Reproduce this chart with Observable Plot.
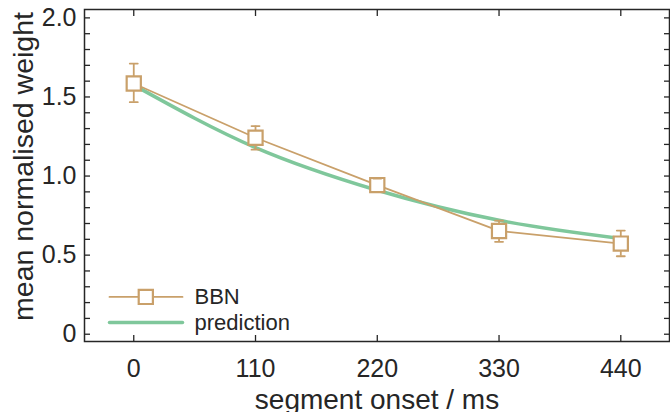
<!DOCTYPE html>
<html><head><meta charset="utf-8">
<script src="https://cdn.jsdelivr.net/npm/d3@7"></script>
<script src="https://cdn.jsdelivr.net/npm/@observablehq/plot@0.6"></script>
<style>html,body{margin:0;padding:0;background:#fff}</style>
</head><body><div id="chart"></div>
<script>
// ---- data ----
const onsets = [0, 110, 220, 330, 440];
const bbnMean = [1.585, 1.242, 0.943, 0.653, 0.573];
const bbnLow = [1.467, 1.167, 0.900, 0.584, 0.493];
const bbnHigh = [1.711, 1.316, 0.984, 0.718, 0.655];
const prediction = [1.575, 1.18, 0.91, 0.72, 0.605];
const xTicks = [0, 110, 220, 330, 440];
const yLabelTicks = [0, 0.5, 1.0, 1.5, 2.0];
const yMinorTicks = [0, 0.1, 0.2, 0.3, 0.4, 0.5, 0.6, 0.7, 0.8, 0.9, 1.0, 1.1, 1.2, 1.3, 1.4, 1.5, 1.6, 1.7, 1.8, 1.9, 2.0];
const legendLabels = ["BBN", "prediction"];
const xTitle = "segment onset / ms";
const yTitle = "mean normalised weight";

const bbn = onsets.map((x, i) => ({x, y: bbnMean[i], lo: bbnLow[i], hi: bbnHigh[i]}));
const pred = onsets.map((x, i) => ({x, y: prediction[i]}));

const tan = "#c9a06a", green = "#7fc79b", ink = "#262626";
const seg = {draw(ctx, l) { ctx.moveTo(0, 0); ctx.lineTo(0, -l); }};
const cap = {draw(ctx, l) { ctx.moveTo(-l / 2, 0); ctx.lineTo(l / 2, 0); }};
const fmt = d => d === 0 ? "0" : d.toFixed(1);

const rowDy = [-44.6, -19];

const chart = Plot.plot({
  width: 670, height: 412,
  marginLeft: 84, marginRight: 1, marginTop: 9, marginBottom: 71,
  style: {fontFamily: "'Liberation Sans', Arial, sans-serif", fontSize: "25px", color: ink, background: "#fff"},
  x: {domain: [-44.5, 484], label: null},
  y: {domain: [-0.046, 2.053], label: null},
  marks: [
    Plot.line(pred, {x: "x", y: "y", stroke: green, strokeWidth: 3.5, curve: "monotone-x"}),
    Plot.line(bbn, {x: "x", y: "y", stroke: tan, strokeWidth: 1.8}),
    Plot.ruleX(bbn, {x: "x", y1: "lo", y2: "hi", stroke: tan, strokeWidth: 1.8}),
    Plot.dot(bbn, {x: "x", y: "y", symbol: "square", r: 8, fill: "#fff", stroke: tan, strokeWidth: 2.2}),
    Plot.vector(bbn, {x: "x", y: "lo", length: 8, shape: cap, anchor: "start", stroke: tan, strokeWidth: 1.8}),
    Plot.vector(bbn, {x: "x", y: "hi", length: 8, shape: cap, anchor: "start", stroke: tan, strokeWidth: 1.8}),
    // legend
    Plot.vector([legendLabels[0]], {x: null, y: null, frameAnchor: "bottom-left", dx: 25, dy: rowDy[0], rotate: 90, length: 73, anchor: "start", shape: seg, stroke: tan, strokeWidth: 1.8}),
    Plot.dot([legendLabels[0]], {x: null, y: null, frameAnchor: "bottom-left", dx: 61.3, dy: rowDy[0], symbol: "square", r: 8, fill: "#fff", stroke: tan, strokeWidth: 2.2}),
    Plot.vector([legendLabels[1]], {x: null, y: null, frameAnchor: "bottom-left", dx: 25, dy: rowDy[1], rotate: 90, length: 73, anchor: "start", shape: seg, stroke: green, strokeWidth: 3.5}),
    Plot.text([legendLabels[0]], {x: null, y: null, text: d => d, frameAnchor: "bottom-left", dx: 110, dy: rowDy[0], textAnchor: "start", lineAnchor: "middle", fontSize: 22, fill: ink}),
    Plot.text([legendLabels[1]], {x: null, y: null, text: d => d, frameAnchor: "bottom-left", dx: 110, dy: rowDy[1], textAnchor: "start", lineAnchor: "middle", fontSize: 22, fill: ink}),
    // axes
    Plot.axisX(xTicks, {anchor: "bottom", tickSize: -6, tickPadding: 23.25, fontSize: 25, tickFormat: d => String(d), label: null, strokeWidth: 1.3}),
    Plot.axisX(xTicks, {anchor: "top", tickSize: -6, tickFormat: () => "", label: null, strokeWidth: 1.3}),
    Plot.axisY(yMinorTicks, {anchor: "left", tickSize: -6, tickFormat: () => "", label: null, strokeWidth: 1.3}),
    Plot.axisY(yMinorTicks, {anchor: "right", tickSize: -6, tickFormat: () => "", label: null, strokeWidth: 1.3}),
    Plot.axisY(yLabelTicks, {anchor: "left", tickSize: 0, tickPadding: 8, fontSize: 25, tickFormat: fmt, label: null}),
    Plot.frame({stroke: ink, strokeWidth: 1.5}),
    // titles
    Plot.text([xTitle], {x: null, y: null, text: d => d, frameAnchor: "bottom", dy: 59, textAnchor: "middle", lineAnchor: "middle", fontSize: 28, fill: ink}),
    Plot.text([yTitle], {x: null, y: null, text: d => d, frameAnchor: "left", rotate: -90, dx: -61, dy: -9, textAnchor: "middle", lineAnchor: "middle", fontSize: 28.5, fill: ink})
  ]
});
document.getElementById("chart").appendChild(chart);
</script>
</body></html>
